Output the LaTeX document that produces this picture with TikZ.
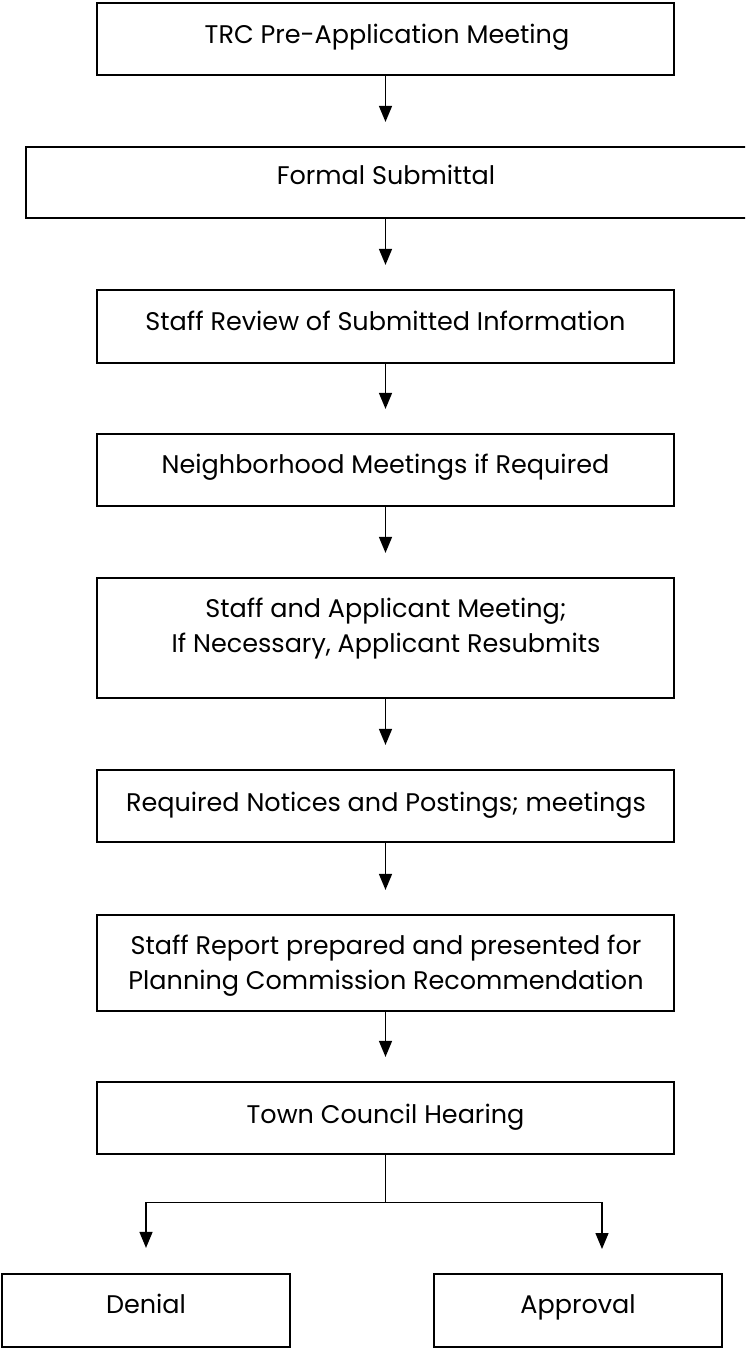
\documentclass[tikz,border=0pt]{standalone}
\usepackage{fontspec}
\setmainfont{Poppins}
\usetikzlibrary{arrows.meta}
\begin{document}
\begin{tikzpicture}[x=1pt,y=1pt,
  box/.style={draw=black, line width=2.2pt, fill=none, rectangle, inner sep=0pt},
  txt/.style={anchor=base, inner sep=0pt, font=\fontsize{25.5}{35.5}\selectfont},
  conn/.style={line width=1.4pt, draw=black},
  arr/.style={conn, -{Triangle[length=16pt,width=13pt]}}]
\useasboundingbox (0,0) rectangle (745,-1349);
\clip (0,0) rectangle (745,-1349);
% boxes
\node[box, minimum width=577pt, minimum height=72pt] (b1) at (385.5,-39) {};
\node[box, minimum width=734pt, minimum height=71pt] (b2) at (393,-182.5) {};
\node[box, minimum width=577pt, minimum height=73pt] (b3) at (385.5,-326.5) {};
\node[box, minimum width=577pt, minimum height=72pt] (b4) at (385.5,-470) {};
\node[box, minimum width=577pt, minimum height=120pt] (b5) at (385.5,-638) {};
\node[box, minimum width=577pt, minimum height=72pt] (b6) at (385.5,-806) {};
\node[box, minimum width=577pt, minimum height=96pt] (b7) at (385.5,-963) {};
\node[box, minimum width=577pt, minimum height=72pt] (b8) at (385.5,-1118) {};
\node[box, minimum width=288pt, minimum height=73pt] (bd) at (146,-1310.5) {};
\node[box, minimum width=288pt, minimum height=73pt] (ba) at (578,-1310.5) {};
% texts
\node[txt] (t1) at (387,-43) {TRC Pre-Application Meeting};
\node[txt] (t2) at (386,-184) {Formal Submittal};
\node[txt] (t3) at (385.5,-330) {Staff Review of Submitted Information};
\node[txt] (t4) at (385.5,-473) {Neighborhood Meetings if Required};
\node[txt] (t5) at (386,-617) {\begin{tabular}[t]{@{}c@{}}Staff and Applicant Meeting;\\If Necessary, Applicant Resubmits\end{tabular}};
\node[txt] (t6) at (386,-811) {Required Notices and Postings; meetings};
\node[txt] (t7) at (386,-954) {\begin{tabular}[t]{@{}c@{}}Staff Report prepared and presented for\\Planning Commission Recommendation\end{tabular}};
\node[txt] (t8) at (385.5,-1123) {Town Council Hearing};
\node[txt] (td) at (146,-1313.5) {Denial};
\node[txt] (ta) at (578,-1313.5) {Approval};
% connectors
\draw[arr] (b1.south) -- ([yshift=24pt]b2.north -| b1.south);
\draw[arr] (b2.south -| b1.south) -- ([yshift=24pt]b3.north);
\draw[arr] (b3.south) -- ([yshift=24pt]b4.north);
\draw[arr] (b4.south) -- ([yshift=24pt]b5.north);
\draw[arr] (b5.south) -- ([yshift=24pt]b6.north);
\draw[arr] (b6.south) -- ([yshift=24pt]b7.north);
\draw[arr] (b7.south) -- ([yshift=24pt]b8.north);
\coordinate (jl) at (146,-1202.7);
\coordinate (jr) at (602,-1202.7);
\coordinate (ae) at (602,-1249);
\draw[conn] (b8.south) -- (b8.south |- jl);
\draw[conn, line cap=rect] (jl) -- (jr);
\draw[arr] (jl) -- ([yshift=25pt]bd.north);
\draw[arr] (jr) -- (ae);
\end{tikzpicture}
\end{document}
